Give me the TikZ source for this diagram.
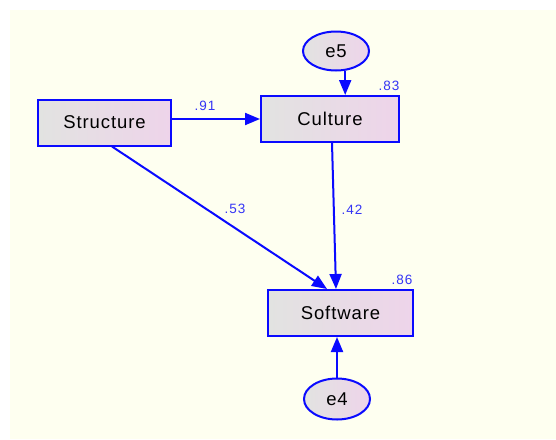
\documentclass[tikz,border=0pt]{standalone}
\usepackage{fontspec}
\setmainfont{Liberation Sans}
\newfontfamily\boxfont[LetterSpace=5]{Liberation Sans}
\newfontfamily\coeffont[LetterSpace=7]{Liberation Sans}
\usetikzlibrary{arrows.meta,calc,shapes.geometric}

\definecolor{paper}{HTML}{FEFFF0}
\definecolor{pathblue}{HTML}{0A0AFF}
\definecolor{coefblue}{HTML}{3535F5}
\definecolor{fillgrey}{HTML}{E2E3E1}
\definecolor{fillpink}{HTML}{EED4EA}

\tikzset{
  observed/.style={draw=pathblue, line width=2pt, left color=fillgrey, right color=fillpink,
    rectangle, inner sep=0pt, font=\boxfont\fontsize{18.5}{21}\selectfont},
  errterm/.style={draw=pathblue, line width=2pt, left color=fillgrey, right color=fillpink,
    ellipse, inner sep=0pt, minimum width=66pt, minimum height=39pt,
    font=\boxfont\fontsize{18.5}{21}\selectfont},
  path/.style={draw=pathblue, line width=2pt, -{Triangle[length=15pt,width=12pt]}},
  coef/.style={text=coefblue, inner sep=0pt, font=\coeffont\fontsize{13.5}{15}\selectfont}
}

\begin{document}
\begin{tikzpicture}[x=1pt,y=-1pt]
  \useasboundingbox (0,0) rectangle (556,439);
  \fill[paper] (10,10) rectangle (556,439);

  % observed variables
  \node[observed, minimum width=133pt, minimum height=46pt] (structure) at (104.5,122.5) {Structure};
  \node[observed, minimum width=138pt, minimum height=46pt] (culture) at (330,119) {Culture};
  \node[observed, minimum width=145pt, minimum height=46pt] (software) at (340.5,313) {Software};

  % error terms
  \node[errterm] (e5) at (336,51) {e5};
  \node[errterm, minimum height=41pt] (e4) at (337,399) {e4};

  % regression paths
  \draw[path] (structure.east |- culture.west) -- (culture.west);
  \draw[path] ($(structure.south)+(7.5,0)$) -- ($(software.north)+(-13.5,0)$);
  \draw[path] ($(culture.south)+(2,0)$) -- ($(software.north)+(-4.5,0)$);
  \draw[path] (e5.-65) -- (e5.-65 |- culture.north);
  \draw[path] (e4.north) -- (e4.north |- software.south);

  % standardized estimates
  \node[coef] (c91) at (205,106) {.91};
  \node[coef] (c53) at (235,209) {.53};
  \node[coef] (c42) at (352,210) {.42};
  \node[coef] (r83) at (389,86) {.83};
  \node[coef] (r86) at (402,280) {.86};
\end{tikzpicture}
\end{document}
